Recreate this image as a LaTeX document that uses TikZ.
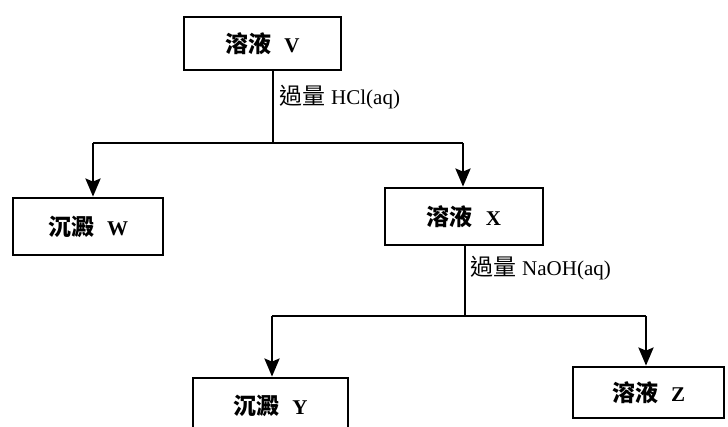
\documentclass[tikz,border=0pt]{standalone}
\usepackage{fontspec}
\setmainfont{Liberation Serif}
\newfontfamily\cjk{Noto Sans CJK TC}
\usetikzlibrary{arrows.meta}
\tikzset{
  box/.style={draw, line width=2.8pt, minimum width=#1, inner sep=0pt, font=\fontsize{21}{24}\selectfont\bfseries},
  link/.style={line width=2.8pt},
  arr/.style={line width=2.8pt, -{Stealth[length=18pt, width=15pt, inset=3pt]}},
  lbl/.style={anchor=west, inner sep=0pt, font=\fontsize{21}{24}\selectfont},
}
\newcommand{\zh}[1]{{\cjk\fontsize{23}{24}\selectfont #1}}
\begin{document}
\begin{tikzpicture}[x=1pt, y=-1pt]
\useasboundingbox (0,0) rectangle (728,426);
\clip (0,0) rectangle (728,426);
% boxes
\node[box=157pt, minimum height=53pt] (V) at (262.5,43.5) {\zh{溶液}\hspace{13pt}V};
\node[box=150pt, minimum height=57pt] (W) at (88,226.5) {\zh{沉澱}\hspace{13pt}W};
\node[box=158pt, minimum height=57pt] (X) at (464,216.5) {\zh{溶液}\hspace{13pt}X};
\node[box=155pt, minimum height=56pt] (Y) at (270.5,406) {\zh{沉澱}\hspace{13pt}Y};
\node[box=151pt, minimum height=51pt] (Z) at (648.5,392.5) {\zh{溶液}\hspace{13pt}Z};
% junctions
\coordinate (j1) at (273,143);
\coordinate (j1l) at (93,143);
\coordinate (j1r) at (463,143);
\coordinate (j2) at (465,316);
\coordinate (j2l) at (272,316);
\coordinate (j2r) at (646,316);
% connectors
\draw[link] (V.south -| j1) -- (j1);
\draw[link] (j1l) -- (j1r);
\draw[arr] (j1l) -- (W.north -| j1l);
\draw[arr] (j1r) -- (X.north -| j1r);
\draw[link] (X.south -| j2) -- (j2);
\draw[link] (j2l) -- (j2r);
\draw[arr] (j2l) -- (Y.north -| j2l);
\draw[arr] (j2r) -- (Z.north -| j2r);
% labels
\node[lbl] (L1) at (279,97) {\zh{過量}\hspace{6pt}HCl(aq)};
\node[lbl] (L2) at (470,268) {\zh{過量}\hspace{6pt}NaOH(aq)};
\end{tikzpicture}
\end{document}
